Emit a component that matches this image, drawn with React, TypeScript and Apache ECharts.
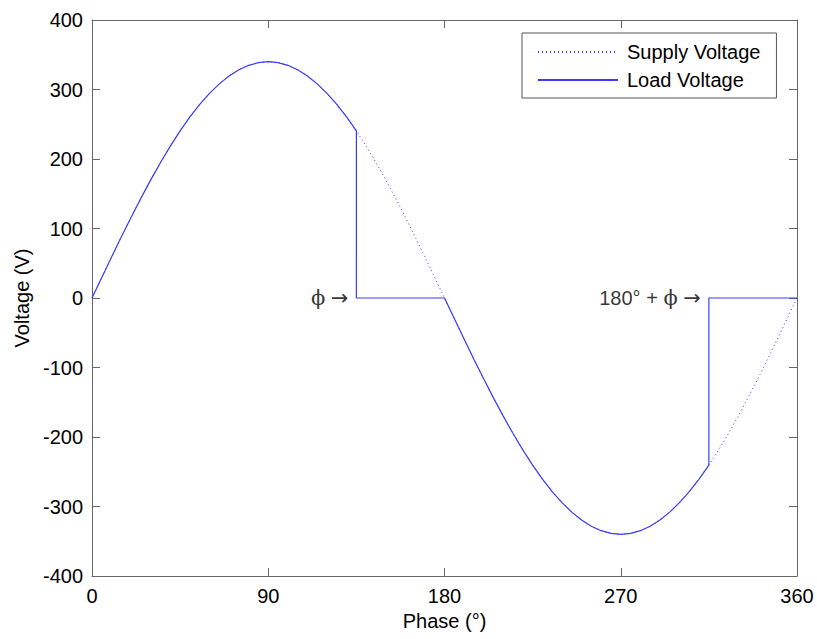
import React, { useEffect, useRef } from "react";
import * as echarts from "echarts";

// Phase samples (degrees) and supply voltage (V)
const phaseDeg: number[] = [
  0, 5, 10, 15, 20, 25, 30, 35, 40, 45, 50, 55, 60, 65, 70, 75, 80, 85, 90,
  95, 100, 105, 110, 115, 120, 125, 130, 135, 140, 145, 150, 155, 160, 165, 170, 175, 180,
  185, 190, 195, 200, 205, 210, 215, 220, 225, 230, 235, 240, 245, 250, 255, 260, 265, 270,
  275, 280, 285, 290, 295, 300, 305, 310, 315, 320, 325, 330, 335, 340, 345, 350, 355, 360,
];
const supplyVoltage: number[] = [
  0, 29.6, 59.0, 88.0, 116.3, 143.7, 170.0, 195.0, 218.5, 240.4, 260.5, 278.5, 294.4, 308.1, 319.5, 328.4, 334.8, 338.7, 340.0,
  338.7, 334.8, 328.4, 319.5, 308.1, 294.4, 278.5, 260.5, 240.4, 218.5, 195.0, 170.0, 143.7, 116.3, 88.0, 59.0, 29.6, 0,
  -29.6, -59.0, -88.0, -116.3, -143.7, -170.0, -195.0, -218.5, -240.4, -260.5, -278.5, -294.4, -308.1, -319.5, -328.4, -334.8, -338.7, -340.0,
  -338.7, -334.8, -328.4, -319.5, -308.1, -294.4, -278.5, -260.5, -240.4, -218.5, -195.0, -170.0, -143.7, -116.3, -88.0, -59.0, -29.6, 0,
];
// Firing angle phi (degrees)
const phiDeg = 135;
const xTicks: number[] = [0, 90, 180, 270, 360];
const yTicks: number[] = [-400, -300, -200, -100, 0, 100, 200, 300, 400];
const annotationTexts: string[] = ["{p|\u03D5} {a|\u2192}", "180\u00B0 + {p|\u03D5} {a|\u2192}"];

function buildLoad(): [number, number][] {
  const out: [number, number][] = [];
  for (let i = 0; i < phaseDeg.length; i++) {
    const p = phaseDeg[i];
    const v = supplyVoltage[i];
    const inCut = (p > phiDeg && p < 180) || (p > 180 + phiDeg && p <= 360);
    if (p === phiDeg || p === 180 + phiDeg) {
      out.push([p, v]);
      out.push([p, 0]);
    } else if (inCut) {
      out.push([p, 0]);
    } else {
      out.push([p, v]);
    }
  }
  return out;
}

const FONT = "Liberation Sans, Arial, sans-serif";
const BLUE = "#3c3cff";
const AXIS = "#666666";

export default function App() {
  const ref = useRef<HTMLDivElement>(null);
  useEffect(() => {
    if (!ref.current) return;
    const chart = echarts.init(ref.current, undefined, { renderer: "svg" });
    const supply = phaseDeg.map((p, i) => [p, supplyVoltage[i]]);
    const load = buildLoad();
    const axisCommon = {
      axisLine: { show: true, onZero: false, lineStyle: { color: AXIS, width: 1 } },
      axisTick: { show: true, inside: true, length: 8, lineStyle: { color: AXIS } },
      splitLine: { show: false },
    };
    chart.setOption({
      animation: false,
      backgroundColor: "#ffffff",
      textStyle: { fontFamily: FONT },
      grid: { left: 92, right: 20, top: 20, bottom: 63, containLabel: false },
      xAxis: [
        {
          type: "value",
          min: xTicks[0],
          max: xTicks[xTicks.length - 1],
          interval: 90,
          name: "Phase (\u00B0)",
          nameLocation: "middle",
          nameGap: 30,
          nameTextStyle: { fontSize: 20, color: "#000", fontFamily: FONT },
          axisLabel: { fontSize: 20, color: "#000", margin: 10, fontFamily: FONT },
          ...axisCommon,
        },
        {
          type: "value",
          position: "top",
          min: xTicks[0],
          max: xTicks[xTicks.length - 1],
          interval: 90,
          axisLabel: { show: false },
          ...axisCommon,
        },
      ],
      yAxis: [
        {
          type: "value",
          min: yTicks[0],
          max: yTicks[yTicks.length - 1],
          interval: 100,
          name: "Voltage (V)",
          nameLocation: "middle",
          nameGap: 60,
          nameTextStyle: { fontSize: 20, color: "#000", fontFamily: FONT },
          axisLabel: { fontSize: 20, color: "#000", margin: 9, fontFamily: FONT },
          ...axisCommon,
        },
        {
          type: "value",
          position: "right",
          min: yTicks[0],
          max: yTicks[yTicks.length - 1],
          interval: 100,
          axisLabel: { show: false },
          ...axisCommon,
        },
      ],
      legend: {
        show: true,
        orient: "vertical",
        left: 522,
        top: 33,
        data: ["Supply Voltage", "Load Voltage"],
        backgroundColor: "#fff",
        borderColor: "#555",
        borderWidth: 1,
        borderRadius: 0,
        padding: [9, 16, 8, 15],
        itemWidth: 80,
        itemHeight: 14,
        itemGap: 8,
        itemStyle: { opacity: 0 },
        textStyle: { fontSize: 20, color: "#000", fontFamily: FONT, padding: [0, 0, 0, 4] },
      },
      series: [
        {
          name: "Supply Voltage",
          type: "line",
          data: supply,
          symbol: "none",
          lineStyle: { color: BLUE, width: 1, type: [1, 3] },
          itemStyle: { color: BLUE },
          z: 2,
        },
        {
          name: "Load Voltage",
          type: "line",
          data: load,
          symbol: "none",
          lineStyle: { color: BLUE, width: 1.2, type: "solid" },
          itemStyle: { color: BLUE },
          z: 3,
        },
        {
          name: "annotations",
          type: "scatter",
          data: [
            [phiDeg, 0],
            [180 + phiDeg, 0],
          ],
          symbolSize: 0,
          silent: true,
          label: {
            show: true,
            position: "left",
            distance: 8,
            fontSize: 20,
            color: "#000",
            fontFamily: FONT,
            formatter: (p: any) => annotationTexts[p.dataIndex],
            rich: {
              p: { fontSize: 21, color: "#000", fontFamily: "DejaVu Serif, serif" },
              a: { fontSize: 21, color: "#000", fontFamily: "DejaVu Sans, sans-serif" },
            },
          },
          z: 4,
        },
      ],
    });
    return () => chart.dispose();
  }, []);
  return (
    <div
      ref={ref}
      style={{ position: "fixed", left: 0, top: 0, width: 817, height: 639, background: "#fff" }}
    />
  );
}
